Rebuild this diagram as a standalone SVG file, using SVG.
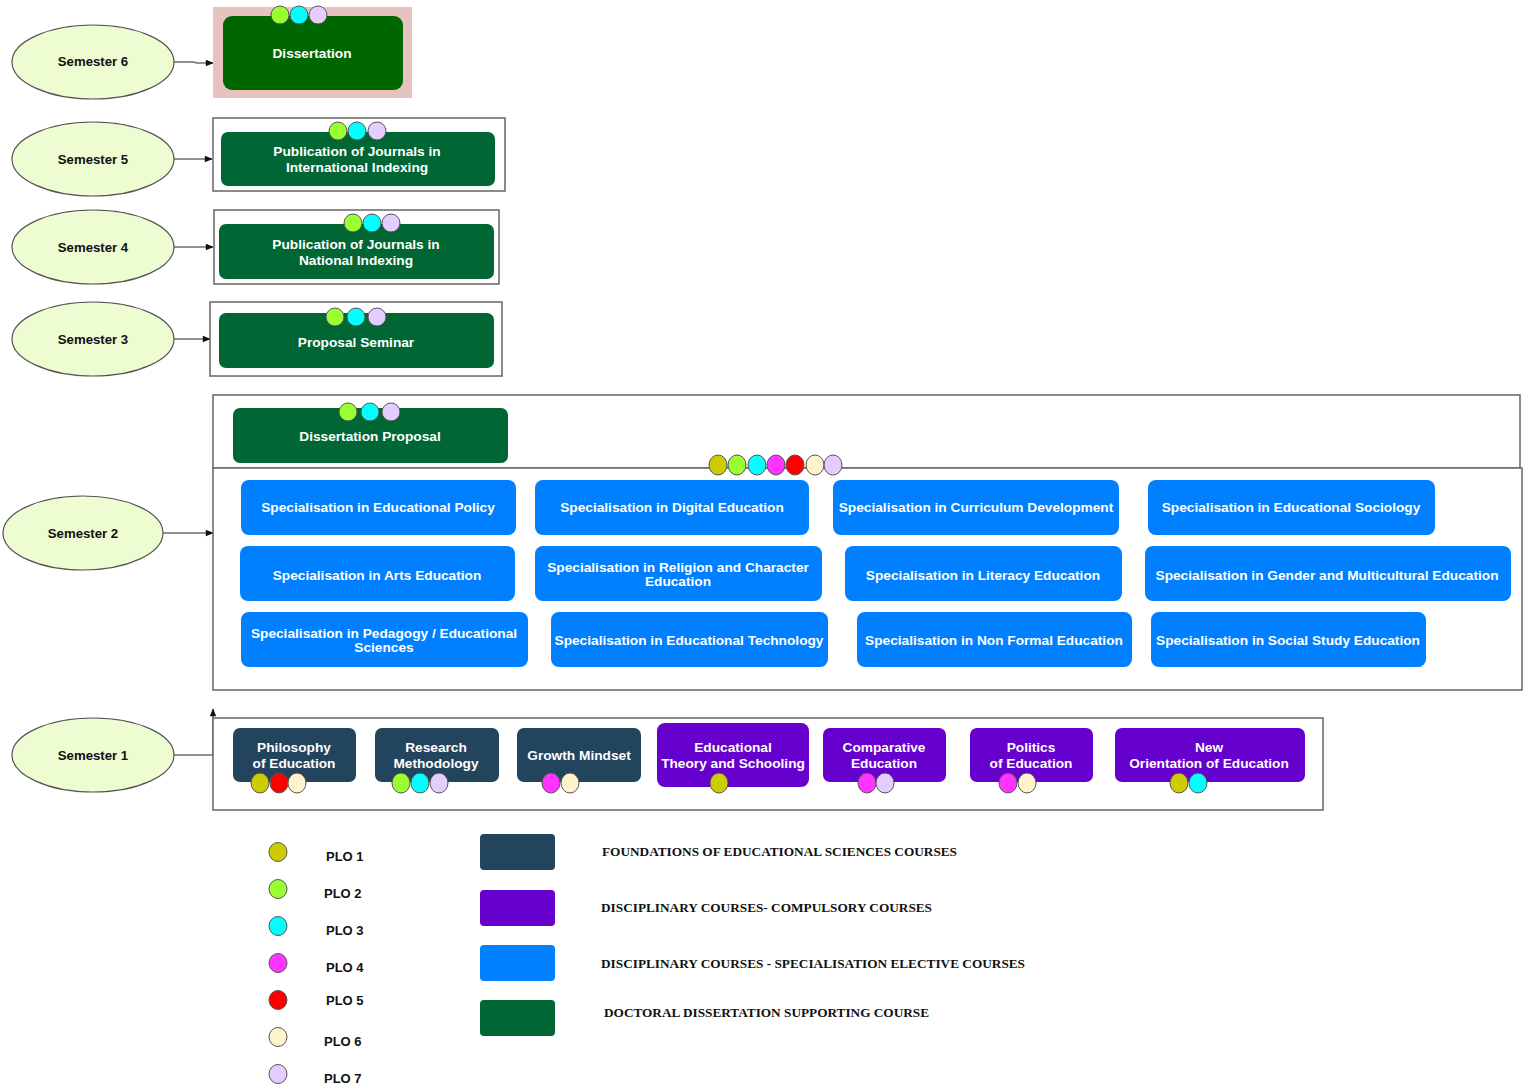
<svg xmlns="http://www.w3.org/2000/svg" width="1528" height="1089" viewBox="0 0 1528 1089">
<defs>
<marker id="arr" viewBox="0 0 10 10" refX="9" refY="5" markerWidth="9" markerHeight="8" orient="auto-start-reverse" markerUnits="userSpaceOnUse">
<path d="M0,1 L10,5 L0,9 Z" fill="#111"/>
</marker>
<style>
.sem{fill:#eefcd2;stroke:#555;stroke-width:1.2}
.semt{font-family:"Liberation Sans",Arial,sans-serif;font-weight:bold;font-size:13.2px;fill:#111;text-anchor:middle}
.frame{fill:#fff;stroke:#666;stroke-width:1.5}
.dg{fill:#006633}
.dk{fill:#23445d}
.pu{fill:#6600cc}
.bl{fill:#007fff}
.nt{font-family:"Liberation Sans",Arial,sans-serif;font-weight:bold;font-size:13.7px;fill:#fff;text-anchor:middle}
.c{stroke:#555;stroke-width:1}
.p1{fill:#cccc00}.p2{fill:#99ff33}.p3{fill:#00ffff}.p4{fill:#ff33ff}.p5{fill:#ff0000}.p6{fill:#fff2cc}.p7{fill:#e5ccff}
.con{fill:none;stroke:#222;stroke-width:1}
.lg{font-family:"Liberation Sans",Arial,sans-serif;font-weight:bold;font-size:13px;fill:#111}
.lt{font-family:"Liberation Serif","Times New Roman",serif;font-weight:bold;font-size:12px;fill:#111}
</style>
</defs>
<rect width="1528" height="1089" fill="#fff"/>

<g id="connectors">
<path class="con" d="M174,62 L194,62 L196,63 L213,63" marker-end="url(#arr)"/>
<path class="con" d="M174,159 L212,159" marker-end="url(#arr)"/>
<path class="con" d="M174,247 L213,247" marker-end="url(#arr)"/>
<path class="con" d="M174,339 L210,339" marker-end="url(#arr)"/>
<path class="con" d="M163,533 L213,533" marker-end="url(#arr)"/>
<path class="con" d="M174,755 L213,755 L213,709" marker-end="url(#arr)"/>
</g>

<g id="semester6"><ellipse class="sem" cx="93" cy="62" rx="81" ry="37"/><text class="semt" x="93" y="66">Semester 6</text></g>
<g id="semester5"><ellipse class="sem" cx="93" cy="159" rx="81" ry="37"/><text class="semt" x="93" y="164">Semester 5</text></g>
<g id="semester4"><ellipse class="sem" cx="93" cy="247" rx="81" ry="37"/><text class="semt" x="93" y="252">Semester 4</text></g>
<g id="semester3"><ellipse class="sem" cx="93" cy="339" rx="81" ry="37"/><text class="semt" x="93" y="344">Semester 3</text></g>
<g id="semester2"><ellipse class="sem" cx="83" cy="533" rx="80" ry="37"/><text class="semt" x="83" y="538">Semester 2</text></g>
<g id="semester1"><ellipse class="sem" cx="93" cy="755" rx="81" ry="37"/><text class="semt" x="93" y="760">Semester 1</text></g>

<g id="dissertation">
<rect x="213" y="7" width="199" height="91" fill="#e6c3bf"/>
<rect x="223" y="16" width="180" height="74" rx="9" fill="#006600"/>
<text class="nt" x="312" y="58">Dissertation</text>
<ellipse class="c p2" cx="280" cy="15" rx="9" ry="9"/><ellipse class="c p3" cx="299" cy="15" rx="9" ry="9"/><ellipse class="c p7" cx="318" cy="15" rx="9" ry="9"/>
</g>

<g id="pub-international">
<rect class="frame" x="213" y="118" width="292" height="73"/>
<rect class="dg" x="221" y="132" width="274" height="54" rx="7"/>
<text class="nt" x="357" y="156">Publication of Journals in</text>
<text class="nt" x="357" y="172">International Indexing</text>
<ellipse class="c p2" cx="338" cy="131" rx="9" ry="9"/><ellipse class="c p3" cx="357" cy="131" rx="9" ry="9"/><ellipse class="c p7" cx="377" cy="131" rx="9" ry="9"/>
</g>

<g id="pub-national">
<rect class="frame" x="214" y="210" width="285" height="74"/>
<rect class="dg" x="219" y="224" width="275" height="55" rx="7"/>
<text class="nt" x="356" y="249">Publication of Journals in</text>
<text class="nt" x="356" y="265">National Indexing</text>
<ellipse class="c p2" cx="353" cy="223" rx="9" ry="9"/><ellipse class="c p3" cx="372" cy="223" rx="9" ry="9"/><ellipse class="c p7" cx="391" cy="223" rx="9" ry="9"/>
</g>

<g id="proposal-seminar">
<rect class="frame" x="210" y="302" width="292" height="74"/>
<rect class="dg" x="219" y="313" width="275" height="55" rx="7"/>
<text class="nt" x="356" y="347">Proposal Seminar</text>
<ellipse class="c p2" cx="335" cy="317" rx="9" ry="9"/><ellipse class="c p3" cx="356" cy="317" rx="9" ry="9"/><ellipse class="c p7" cx="377" cy="317" rx="9" ry="9"/>
</g>

<g id="semester2-frame">
<rect class="frame" x="213" y="395" width="1307" height="73"/>
<rect class="frame" x="213" y="468" width="1309" height="222"/>
</g>

<g id="dissertation-proposal">
<rect class="dg" x="233" y="408" width="275" height="55" rx="7"/>
<text class="nt" x="370" y="441">Dissertation Proposal</text>
<ellipse class="c p2" cx="348" cy="412" rx="9" ry="9"/><ellipse class="c p3" cx="370" cy="412" rx="9" ry="9"/><ellipse class="c p7" cx="391" cy="412" rx="9" ry="9"/>
</g>

<g id="specialisation-plos">
<ellipse class="c p1" cx="718" cy="465" rx="9" ry="10"/><ellipse class="c p2" cx="737" cy="465" rx="9" ry="10"/><ellipse class="c p3" cx="757" cy="465" rx="9" ry="10"/><ellipse class="c p4" cx="776" cy="465" rx="9" ry="10"/><ellipse class="c p5" cx="795" cy="465" rx="9" ry="10"/><ellipse class="c p6" cx="815" cy="465" rx="9" ry="10"/><ellipse class="c p7" cx="833" cy="465" rx="9" ry="10"/>
</g>

<g id="spec-policy"><rect class="bl" x="241" y="480" width="275" height="55" rx="8"/><text class="nt" x="378" y="512">Specialisation in Educational Policy</text></g>
<g id="spec-digital"><rect class="bl" x="535" y="480" width="274" height="55" rx="8"/><text class="nt" x="672" y="512">Specialisation in Digital Education</text></g>
<g id="spec-curriculum"><rect class="bl" x="833" y="480" width="286" height="55" rx="8"/><text class="nt" x="976" y="512">Specialisation in Curriculum Development</text></g>
<g id="spec-sociology"><rect class="bl" x="1148" y="480" width="287" height="55" rx="8"/><text class="nt" x="1291" y="512">Specialisation in Educational Sociology</text></g>

<g id="spec-arts"><rect class="bl" x="240" y="546" width="275" height="55" rx="8"/><text class="nt" x="377" y="580">Specialisation in Arts Education</text></g>
<g id="spec-religion"><rect class="bl" x="535" y="546" width="287" height="55" rx="8"/><text class="nt" x="678" y="572">Specialisation in Religion and Character</text><text class="nt" x="678" y="586">Education</text></g>
<g id="spec-literacy"><rect class="bl" x="845" y="546" width="277" height="55" rx="8"/><text class="nt" x="983" y="580">Specialisation in Literacy Education</text></g>
<g id="spec-gender"><rect class="bl" x="1145" y="546" width="366" height="55" rx="8"/><text class="nt" x="1327" y="580">Specialisation in Gender and Multicultural Education</text></g>

<g id="spec-pedagogy"><rect class="bl" x="241" y="612" width="287" height="55" rx="8"/><text class="nt" x="384" y="638">Specialisation in Pedagogy / Educational</text><text class="nt" x="384" y="652">Sciences</text></g>
<g id="spec-technology"><rect class="bl" x="551" y="612" width="277" height="55" rx="8"/><text class="nt" x="689" y="645">Specialisation in Educational Technology</text></g>
<g id="spec-nonformal"><rect class="bl" x="857" y="612" width="275" height="55" rx="8"/><text class="nt" x="994" y="645">Specialisation in Non Formal Education</text></g>
<g id="spec-social"><rect class="bl" x="1151" y="612" width="275" height="55" rx="8"/><text class="nt" x="1288" y="645">Specialisation in Social Study Education</text></g>

<g id="semester1-frame"><rect class="frame" x="213" y="718" width="1110" height="92"/></g>

<g id="philosophy"><rect class="dk" x="233" y="728" width="123" height="54" rx="7"/><text class="nt" x="294" y="752">Philosophy</text><text class="nt" x="294" y="768">of Education</text>
<ellipse class="c p1" cx="260" cy="783" rx="9" ry="10"/><ellipse class="c p5" cx="279" cy="783" rx="9" ry="10"/><ellipse class="c p6" cx="297" cy="783" rx="9" ry="10"/></g>
<g id="research"><rect class="dk" x="375" y="728" width="124" height="54" rx="7"/><text class="nt" x="436" y="752">Research</text><text class="nt" x="436" y="768">Methodology</text>
<ellipse class="c p2" cx="401" cy="783" rx="9" ry="10"/><ellipse class="c p3" cx="420" cy="783" rx="9" ry="10"/><ellipse class="c p7" cx="439" cy="783" rx="9" ry="10"/></g>
<g id="growth"><rect class="dk" x="517" y="728" width="124" height="54" rx="7"/><text class="nt" x="579" y="760">Growth Mindset</text>
<ellipse class="c p4" cx="551" cy="783" rx="9" ry="10"/><ellipse class="c p6" cx="570" cy="783" rx="9" ry="10"/></g>
<g id="theory"><rect class="pu" x="657" y="723" width="152" height="64" rx="8"/><text class="nt" x="733" y="752">Educational</text><text class="nt" x="733" y="768">Theory and Schooling</text>
<ellipse class="c p1" cx="719" cy="783" rx="9" ry="10"/></g>
<g id="comparative"><rect class="pu" x="823" y="728" width="123" height="54" rx="7"/><text class="nt" x="884" y="752">Comparative</text><text class="nt" x="884" y="768">Education</text>
<ellipse class="c p4" cx="867" cy="783" rx="9" ry="10"/><ellipse class="c p7" cx="885" cy="783" rx="9" ry="10"/></g>
<g id="politics"><rect class="pu" x="970" y="728" width="123" height="54" rx="7"/><text class="nt" x="1031" y="752">Politics</text><text class="nt" x="1031" y="768">of Education</text>
<ellipse class="c p4" cx="1008" cy="783" rx="9" ry="10"/><ellipse class="c p6" cx="1027" cy="783" rx="9" ry="10"/></g>
<g id="new-orientation"><rect class="pu" x="1115" y="728" width="190" height="54" rx="7"/><text class="nt" x="1209" y="752">New</text><text class="nt" x="1209" y="768">Orientation of Education</text>
<ellipse class="c p1" cx="1179" cy="783" rx="9" ry="10"/><ellipse class="c p3" cx="1198" cy="783" rx="9" ry="10"/></g>

<g id="legend-plo">
<ellipse class="c p1" cx="278" cy="852" rx="9" ry="9.5"/><text class="lg" x="326" y="861">PLO 1</text>
<ellipse class="c p2" cx="278" cy="889" rx="9" ry="9.5"/><text class="lg" x="324" y="898">PLO 2</text>
<ellipse class="c p3" cx="278" cy="926" rx="9" ry="9.5"/><text class="lg" x="326" y="935">PLO 3</text>
<ellipse class="c p4" cx="278" cy="963" rx="9" ry="9.5"/><text class="lg" x="326" y="972">PLO 4</text>
<ellipse class="c p5" cx="278" cy="1000" rx="9" ry="9.5"/><text class="lg" x="326" y="1005">PLO 5</text>
<ellipse class="c p6" cx="278" cy="1037" rx="9" ry="9.5"/><text class="lg" x="324" y="1046">PLO 6</text>
<ellipse class="c p7" cx="278" cy="1074" rx="9" ry="9.5"/><text class="lg" x="324" y="1083">PLO 7</text>
</g>

<g id="legend-types">
<rect class="dk" x="480" y="834" width="75" height="36" rx="4"/><text class="lt" x="602" y="856" textLength="355" lengthAdjust="spacingAndGlyphs">FOUNDATIONS OF EDUCATIONAL SCIENCES COURSES</text>
<rect class="pu" x="480" y="890" width="75" height="36" rx="4"/><text class="lt" x="601" y="912" textLength="331" lengthAdjust="spacingAndGlyphs">DISCIPLINARY COURSES- COMPULSORY COURSES</text>
<rect class="bl" x="480" y="945" width="75" height="36" rx="4"/><text class="lt" x="601" y="968" textLength="424" lengthAdjust="spacingAndGlyphs">DISCIPLINARY COURSES - SPECIALISATION ELECTIVE COURSES</text>
<rect class="dg" x="480" y="1000" width="75" height="36" rx="4"/><text class="lt" x="604" y="1017" textLength="325" lengthAdjust="spacingAndGlyphs">DOCTORAL DISSERTATION SUPPORTING COURSE</text>
</g>
</svg>
